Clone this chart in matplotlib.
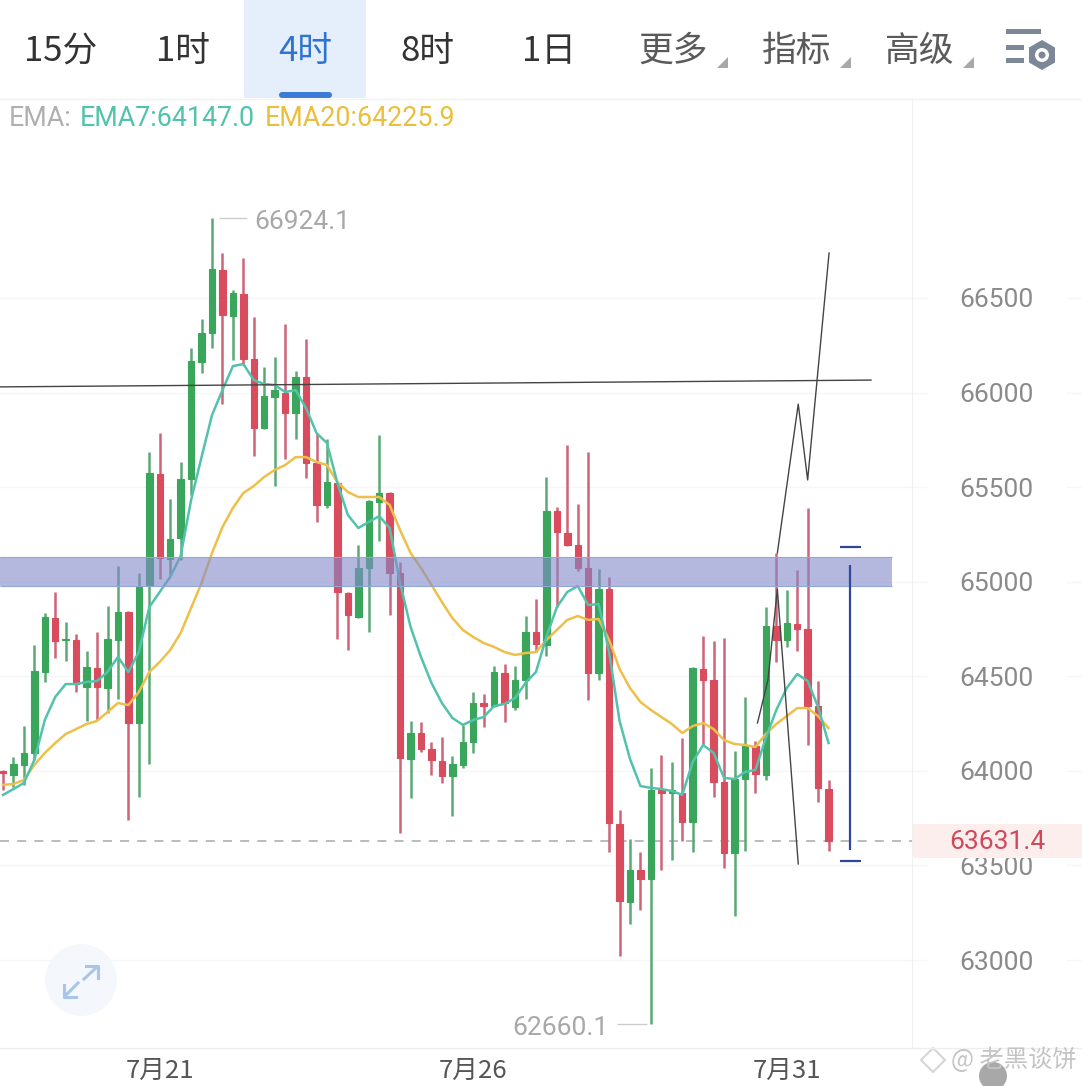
import matplotlib
matplotlib.use("Agg")
import matplotlib.pyplot as plt
import numpy as np
from matplotlib.patches import Circle, FancyBboxPatch, Polygon, RegularPolygon, Rectangle

plt.rcParams['font.family'] = ['Noto Sans CJK SC', 'DejaVu Sans']

# 4h candles
opens = [64000, 63979, 64031, 64095, 64523, 64808, 64692, 64692, 64444, 64544,
         64438, 64692, 64840, 64253, 64977, 65569, 65120, 65231, 65543, 66161,
         66315, 66648, 66405, 66521, 66177, 65813, 65976, 65998, 65892, 66082,
         65628, 65406, 65522, 64940, 64814, 65073, 65421, 65469, 65046, 64063,
         64200, 64116, 64052, 63973, 64031, 64153, 64359, 64343, 64517, 64338,
         64480, 64734, 64666, 65374, 65258, 65194, 65073, 64517, 64961, 63719,
         63307, 63476, 63429, 63899, 63883, 63883, 63730, 64539, 64480, 63941,
         63566, 63957, 64132, 63979, 64766, 64692, 64777, 64750, 64343, 63904]
closes = [63989, 64037, 64095, 64528, 64814, 64687, 64697, 64459, 64549, 64444,
          64697, 64840, 64253, 64972, 65575, 65125, 65226, 65543, 66167, 66315,
          66653, 66410, 66526, 66177, 65813, 65982, 66013, 65892, 66082, 65628,
          65406, 65527, 64946, 64824, 65073, 65427, 65469, 65046, 64068, 64200,
          64116, 64058, 63973, 64037, 64153, 64359, 64343, 64523, 64359, 64480,
          64734, 64671, 65374, 65263, 65194, 65073, 64517, 64961, 63725, 63312,
          63476, 63429, 63899, 63883, 63899, 63730, 64544, 64480, 63941, 63566,
          63957, 64132, 63984, 64766, 64692, 64782, 64750, 64343, 63910, 63631.4]
highs = [64005, 64074, 64237, 64666, 64835, 64946, 64787, 64724, 64634, 64734,
         64872, 65083, 64845, 65046, 65686, 65786, 65437, 65633, 66235, 66389,
         66924.1, 66738, 66542, 66711, 66399, 66135, 66188, 66362, 66114, 66283,
         65786, 65754, 65527, 64945, 65194, 65432, 65776, 65475, 65104, 64264,
         64258, 64153, 64179, 64079, 64243, 64417, 64406, 64554, 64565, 64554,
         64819, 64909, 65554, 65395, 65723, 65411, 65686, 65067, 65025, 63793,
         63640, 63571, 64015, 64084, 64047, 64174, 64550, 64713, 64687, 64703,
         64105, 64391, 64158, 64866, 65152, 64956, 65062, 65390, 64475, 63952]
lows = [63899, 63915, 63926, 64058, 64470, 64597, 64581, 64417, 64264, 64269,
        64306, 64380, 63741, 63862, 64037, 65014, 65035, 65115, 65458, 66103,
        66235, 65940, 66172, 66146, 65665, 65808, 65506, 65649, 65754, 65548,
        65316, 65390, 64697, 64639, 64809, 64734, 65215, 64824, 63672, 63857,
        64100, 63979, 63936, 63762, 64015, 64095, 64232, 64340, 64258, 64322,
        64380, 64628, 64607, 64866, 65190, 65057, 64375, 64480, 63571, 63022,
        63191, 63265, 62660.1, 63476, 63529, 63630, 63571, 64137, 63862, 63487,
        63233, 63577, 63883, 63952, 64576, 64655, 64634, 64137, 63836, 63577]

ema7 = [63873, 63904, 63936, 64058, 64269, 64391, 64459, 64459, 64470, 64475,
        64523, 64602, 64523, 64628, 64866, 64946, 65025, 65136, 65432, 65659,
        65881, 66013, 66140, 66151, 66066, 66045, 66040, 66003, 66013, 65918,
        65786, 65733, 65522, 65353, 65284, 65316, 65347, 65284, 64993, 64761,
        64602, 64465, 64359, 64280, 64243, 64269, 64285, 64343, 64354, 64385,
        64465, 64523, 64708, 64866, 64946, 64977, 64877, 64882, 64628, 64264,
        64063, 63920, 63910, 63904, 63894, 63873, 64047, 64137, 64095, 63963,
        63957, 63994, 64005, 64174, 64322, 64438, 64512, 64475, 64338, 64147]
ema20 = [63926, 63931, 63952, 64031, 64095, 64147, 64195, 64221, 64248, 64264,
         64311, 64359, 64348, 64417, 64523, 64576, 64639, 64729, 64861, 64993,
         65152, 65289, 65390, 65469, 65506, 65554, 65591, 65617, 65659, 65659,
         65633, 65617, 65527, 65474, 65448, 65448, 65448, 65406, 65273, 65152,
         65073, 64983, 64893, 64808, 64745, 64708, 64676, 64655, 64628, 64613,
         64623, 64628, 64692, 64745, 64798, 64819, 64798, 64803, 64692, 64539,
         64438, 64364, 64322, 64285, 64248, 64200, 64237, 64253, 64221, 64163,
         64142, 64137, 64126, 64195, 64248, 64290, 64332, 64332, 64290, 64226]

y_ticks = [63000, 63500, 64000, 64500, 65000, 65500, 66000, 66500]
x_ticks = [15, 45, 75]
x_labels = ['7月21', '7月26', '7月31']
last_price = 63631.4
tabs = ['15分', '1时', '4时', '8时', '1日', '更多', '指标', '高级']

# hand drawn marks on the chart
trend_x, trend_y = [-0.29, 83.06], [66030, 66066]
zig_a_x, zig_a_y = [72.2, 73.2, 74.1, 76.1], [64253, 64480, 64961, 63508]
zig_b_x, zig_b_y = [74.1, 76.1, 77.0, 79.05], [65152, 65939, 65538, 66738]
band_x, band_low, band_high = [-0.3, 85.07], 64977, 65131

GREEN, RED = '#3aa65c', '#d84c5e'
WICK_GREEN, WICK_RED = '#5aa975', '#cf6377'
W, H = 1082, 1086

fig = plt.figure(figsize=(W / 100, H / 100), dpi=100, facecolor='white')

# chart area runs from x=0..912, y=99..1048 in pixels
ax = fig.add_axes([0, (H - 1048) / H, 912 / W, (1048 - 99) / H])
ax.set_xlim(-3 / 10.45, 909 / 10.45)
ax.set_ylim(62535, 67552)
ax.patch.set_alpha(0)

idx = np.arange(len(opens))
opens = np.array(opens)
closes = np.array(closes)
up = closes >= opens
bottom = np.minimum(opens, closes)
height = np.abs(closes - opens)

ax.vlines(idx[up], np.array(lows)[up], np.array(highs)[up], color=WICK_GREEN, lw=1.8, zorder=3)
ax.vlines(idx[~up], np.array(lows)[~up], np.array(highs)[~up], color=WICK_RED, lw=1.8, zorder=3)
ax.bar(idx[up], height[up], bottom=bottom[up], width=0.62, color=GREEN, edgecolor=GREEN, lw=0.8, zorder=4)
ax.bar(idx[~up], height[~up], bottom=bottom[~up], width=0.62, color=RED, edgecolor=RED, lw=0.8, zorder=4)

ax.plot(idx, ema20, color='#eec04a', lw=1.8, zorder=5)
ax.plot(idx, ema7, color='#53c2ad', lw=1.8, zorder=5)

# resistance band
ax.fill_between(band_x, band_low, band_high, facecolor='#828acb', alpha=0.6, zorder=6)
ax.hlines([band_low, band_high], band_x[0], band_x[1], color='#8fa6da', lw=0.8, zorder=6)

ax.plot(trend_x, trend_y, color='#444444', lw=1.0, zorder=7)
ax.plot(zig_a_x, zig_a_y, color='#444444', lw=1.0, zorder=7)
ax.plot(zig_b_x, zig_b_y, color='#444444', lw=1.0, zorder=7)

# blue range marker
ax.vlines(81.05, 63582, 65088, color='#30489c', lw=1.6, zorder=7)
ax.hlines([65184, 63524], 80.1, 82.1, color='#30489c', lw=1.6, zorder=7)

ax.axhline(last_price, color='#b5b5b5', lw=1.3, dashes=(5, 4.5), zorder=2)

# high / low notes
ax.hlines(highs[20], 20.67, 23.35, color='#cccccc', lw=1.0)
ax.text(24.0, 66902, '66924.1', color='#a8a8a8', fontsize=19, family='Roboto', va='center')
ax.hlines(lows[62], 58.75, 61.6, color='#cccccc', lw=1.0)
ax.text(57.9, 62640, '62660.1', color='#a8a8a8', fontsize=19, family='Roboto', va='center', ha='right')

ax.set_yticks(y_ticks)
ax.set_xticks(x_ticks, x_labels)
ax.yaxis.tick_right()
ax.tick_params(axis='y', length=0, pad=33.8, labelsize=19, labelcolor='#8a8a8a')
ax.tick_params(axis='x', length=0, pad=7, labelsize=18.5, labelcolor='#555555')
for lab in ax.get_yticklabels():
    lab.set_family('Roboto')
ax.grid(axis='y', color='#f6f6f6', lw=1.0, zorder=0)
for s in ['top', 'left', 'bottom']:
    ax.spines[s].set_visible(False)
ax.spines['right'].set_color('#f0f0f0')
for v in y_ticks:
    ax.plot([1, 1.015], [v, v], transform=ax.get_yaxis_transform(), color='#f6f6f6', lw=1.0, clip_on=False)
    ax.plot([1.17, 1.187], [v, v], transform=ax.get_yaxis_transform(), color='#f6f6f6', lw=1.0, clip_on=False)

# app chrome, in pixels
ui = fig.add_axes([0, 0, 1, 1], zorder=10)
ui.set_xlim(0, W)
ui.set_ylim(H, 0)
ui.axis('off')

ui.add_patch(Rectangle((244, 0), 122, 98, color='#e4effb', lw=0))
ui.add_patch(FancyBboxPatch((279, 92), 53, 6, boxstyle='round,pad=0,rounding_size=3', color='#3c7cd6', lw=0))
ui.plot([0, W], [98.5, 98.5], color='#f2f2f2', lw=1)
ui.plot([0, W], [1048, 1048], color='#eeeeee', lw=1)

tab_x = [61, 183, 305, 427, 549, 673, 797, 920]
tab_color = ['#333333', '#333333', '#2f74d0', '#333333', '#333333', '#5a5a5a', '#5a5a5a', '#5a5a5a']
for x, t, c in zip(tab_x, tabs, tab_color):
    ui.text(x, 51, t, ha='center', va='center', fontsize=25, color=c)
for x in [728, 851, 974]:
    ui.add_patch(Polygon([(x, 57), (x, 68), (x - 11, 68)], color='#a8a8a8', lw=0))

# settings icon
for x0, x1, y0 in [(1006, 1041, 29), (1006, 1024, 45), (1006, 1024, 58)]:
    ui.add_patch(Rectangle((x0, y0), x1 - x0, 5, color='#7c8798', lw=0))
ui.add_patch(RegularPolygon((1042, 55), 6, radius=15, color='#7c8798', lw=0))
ui.add_patch(Circle((1042, 55), 7, color='white', lw=0))
ui.add_patch(Circle((1042, 55), 3.5, color='#7c8798', lw=0))

# EMA legend
ui.text(9, 119, 'EMA:', color='#b0b0b0', fontsize=19.4, family='Roboto', va='center')
ui.text(80, 119, 'EMA7:64147.0', color='#4fc4ab', fontsize=19.4, family='Roboto', va='center')
ui.text(265, 119, 'EMA20:64225.9', color='#eabf3e', fontsize=19.4, family='Roboto', va='center')

# last price tag
ui.add_patch(Rectangle((913, 824), 169, 34, color='#fdeeee', lw=0))
ui.text(997, 842, '63631.4', color='#d0485a', fontsize=19, family='Roboto', ha='center', va='center')

# expand button
ui.add_patch(Circle((81, 980), 36, color='#f4f8fd', lw=0))
for pts in [[(86, 966), (98, 966), (98, 978)], [(64, 985), (64, 997), (76, 997)]]:
    ui.plot(*zip(*pts), color='#a9c5e8', lw=2.2)
ui.plot([84, 97], [979, 967], color='#a9c5e8', lw=2.2)
ui.plot([65, 78], [996, 983], color='#a9c5e8', lw=2.2)

# watermark
ui.add_patch(Circle((993, 1076), 14, color='#a8a8a8', lw=0))
ui.add_patch(RegularPolygon((933, 1060), 4, radius=12, edgecolor='#d6d6d6', facecolor='none', lw=1.5))
ui.text(951, 1060, '@ 老黑谈饼', color='#c4c4c4', fontsize=17.5, va='center')

fig.savefig('out.png', dpi=100)
